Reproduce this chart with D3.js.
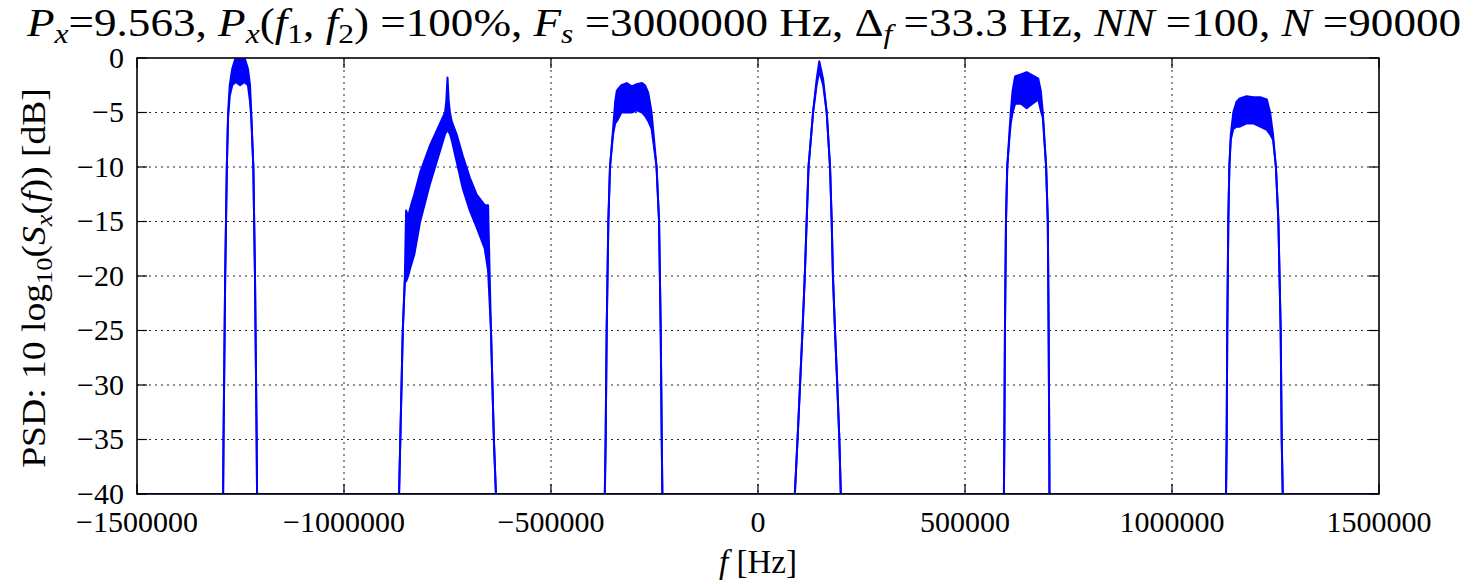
<!DOCTYPE html>
<html>
<head>
<meta charset="utf-8">
<script src="https://cdn.jsdelivr.net/npm/d3@7"></script>
<style>
body { margin: 0; background: #fff; }
text { font-family: "Liberation Serif", "DejaVu Serif", serif; fill: #000; }
</style>
</head>
<body>
<svg id="chart"></svg>
<script>
const width = 1483;
const height = 584;

// PSD envelope of each band: [frequency Hz, upper dB, lower dB]
const band1 = [
    [-1292000, -40, -40], [-1291000, -35, -35], [-1287000, -20, -20], [-1283000, -10, -10],
    [-1280000, -5, -5.5], [-1276000, -2.5, -3.5], [-1270000, -1, -2.5], [-1262000, 0, -2.2],
    [-1251000, 0, -2.5], [-1240000, 0, -2.2], [-1232000, -1, -2.5], [-1227000, -2.5, -4],
    [-1224000, -5, -5.5], [-1219000, -10, -10], [-1215000, -20, -20], [-1211000, -35, -35],
    [-1210000, -40, -40]
];
const band2 = [
    [-867000, -40, -40], [-858000, -25, -25], [-853000, -20, -20.5], [-850000, -14, -20.5],
    [-845000, -14.5, -20], [-838000, -13.5, -19], [-830000, -12.5, -18], [-816000, -10.5, -15],
    [-792000, -8, -11.5], [-768000, -6, -8.5], [-756000, -5, -7], [-753000, -4, -6.8],
    [-750000, -1.8, -6.5], [-747000, -4, -6.8], [-744000, -5, -7], [-740000, -5.8, -7.5],
    [-728000, -7, -9.5], [-713000, -9, -12], [-696000, -11, -14], [-680000, -12.5, -15.5],
    [-660000, -13.5, -17.5], [-652000, -13.5, -19.5], [-645000, -25, -25], [-638000, -35, -35],
    [-633000, -40, -40]
];
const band3 = [
    [-370000, -40, -40], [-368000, -35, -35], [-365500, -25, -25], [-361500, -15, -15],
    [-357500, -10, -10], [-350000, -6.5, -7], [-345000, -4, -6], [-341000, -3, -5.8],
    [-330000, -2.5, -5], [-317000, -2.3, -5], [-305000, -2.6, -5], [-293000, -2.4, -4.8],
    [-280000, -2.3, -5], [-273000, -2.5, -5.3], [-265000, -3.2, -5.8], [-257000, -5, -6.5],
    [-245000, -10, -10], [-239000, -15, -15], [-235000, -25, -25], [-232500, -35, -35],
    [-231000, -40, -40]
];
const band4 = [
    [89000, -40, -40], [95500, -35, -35], [101500, -30, -30], [107500, -25, -25],
    [113000, -20, -20], [117500, -15, -15], [122000, -10, -10], [133000, -5, -5],
    [141500, -2, -2.5], [148000, -0.3, -1.2], [157500, -2, -2.5], [166000, -5, -5],
    [174000, -10, -10], [178000, -15, -15], [181000, -20, -20], [186000, -25, -25],
    [191500, -30, -30], [196500, -35, -35], [200000, -40, -40]
];
const band5 = [
    [594000, -40, -40], [595000, -35, -35], [596500, -25, -25], [599000, -15, -15],
    [602000, -10, -10], [607000, -7, -7.5], [610500, -5, -6], [615000, -3, -5],
    [621000, -1.7, -4.2], [635000, -1.5, -4.2], [649000, -1.3, -4.6], [663000, -1.6, -4.2],
    [677000, -1.9, -3.8], [683000, -3, -4.8], [688000, -5, -5.5], [696000, -10, -10],
    [700000, -15, -15], [702000, -25, -25], [703500, -35, -35], [704000, -40, -40]
];
const band6 = [
    [1130500, -40, -40], [1132000, -35, -35], [1133500, -25, -25], [1136000, -15, -15],
    [1138500, -10, -10], [1142000, -7, -7.5], [1148000, -5, -6.5], [1156000, -4, -6.3],
    [1164000, -3.7, -6.3], [1180000, -3.5, -6], [1196500, -3.6, -6], [1213000, -3.6, -6.3],
    [1229000, -3.8, -6.6], [1237000, -5, -7], [1244000, -7, -7.5], [1251000, -10, -10],
    [1257000, -15, -15], [1262500, -25, -25], [1265000, -35, -35], [1267500, -40, -40]
];
const bands = [band1, band2, band3, band4, band5, band6];

const freqDomain = [-1500000, 1500000];
const dbDomain = [-40, 0];
const xTicks = [-1500000, -1000000, -500000, 0, 500000, 1000000, 1500000];
const yTicks = [0, -5, -10, -15, -20, -25, -30, -35, -40];

const svg = d3.select('#chart')
    .attr('width', width)
    .attr('height', height);

const plot = {left: 137, right: 1379, top: 58, bottom: 494};

const x = d3.scaleLinear().domain(freqDomain).range([plot.left, plot.right]);
const y = d3.scaleLinear().domain(dbDomain).range([plot.bottom, plot.top]);

svg.append('clipPath').attr('id', 'clip')
    .append('rect')
    .attr('x', plot.left).attr('y', plot.top)
    .attr('width', plot.right - plot.left).attr('height', plot.bottom - plot.top);

// grid
const grid = svg.append('g').attr('id', 'grid')
    .attr('stroke', '#000').attr('stroke-width', 1)
    .attr('stroke-dasharray', '2,4').attr('opacity', 0.85);
grid.selectAll('line.h')
    .data(yTicks.slice(1, -1))
    .enter().append('line')
    .attr('x1', plot.left).attr('x2', plot.right)
    .attr('y1', d => y(d)).attr('y2', d => y(d));
grid.selectAll('line.v')
    .data(xTicks.slice(1, -1))
    .enter().append('line')
    .attr('y1', plot.top).attr('y2', plot.bottom)
    .attr('x1', d => x(d)).attr('x2', d => x(d));

// data
const data_g = svg.append('g').attr('clip-path', 'url(#clip)');

data_g.append('line')
    .attr('x1', x(freqDomain[0])).attr('x2', x(freqDomain[1]))
    .attr('y1', y(-40)).attr('y2', y(-40))
    .attr('stroke', '#0000ff').attr('stroke-width', 2);

const area = d3.area()
    .x(d => x(d[0]))
    .y0(d => y(d[2]))
    .y1(d => y(d[1]));
const upper = d3.line().x(d => x(d[0])).y(d => y(d[1]));
const lower = d3.line().x(d => x(d[0])).y(d => y(d[2]));

for (const band of bands) {
    data_g.append('path').datum(band)
        .attr('d', area)
        .attr('fill', '#0000ff');
    data_g.append('path').datum(band)
        .attr('d', upper)
        .attr('fill', 'none').attr('stroke', '#0000ff').attr('stroke-width', 2)
        .attr('stroke-linejoin', 'round');
    data_g.append('path').datum(band)
        .attr('d', lower)
        .attr('fill', 'none').attr('stroke', '#0000ff').attr('stroke-width', 2)
        .attr('stroke-linejoin', 'round');
}

// frame and inward ticks
svg.append('rect')
    .attr('x', plot.left).attr('y', plot.top)
    .attr('width', plot.right - plot.left).attr('height', plot.bottom - plot.top)
    .attr('fill', 'none').attr('stroke', '#000').attr('stroke-width', 1.6);

const tickLen = 10;
const ticks_g = svg.append('g').attr('stroke', '#000').attr('stroke-width', 1.2);
for (const t of xTicks) {
    ticks_g.append('line').attr('x1', x(t)).attr('x2', x(t))
        .attr('y1', plot.bottom).attr('y2', plot.bottom - tickLen);
    ticks_g.append('line').attr('x1', x(t)).attr('x2', x(t))
        .attr('y1', plot.top).attr('y2', plot.top + tickLen);
}
for (const t of yTicks) {
    ticks_g.append('line').attr('y1', y(t)).attr('y2', y(t))
        .attr('x1', plot.left).attr('x2', plot.left + tickLen);
    ticks_g.append('line').attr('y1', y(t)).attr('y2', y(t))
        .attr('x1', plot.right).attr('x2', plot.right - tickLen);
}

// tick labels
const fmt = d3.format('d');
svg.append('g').selectAll('text')
    .data(xTicks)
    .enter().append('text')
    .attr('x', d => x(d))
    .attr('y', plot.bottom + 38)
    .attr('text-anchor', 'middle')
    .style('font-size', '30px')
    .text(d => fmt(d));
svg.append('g').selectAll('text')
    .data(yTicks)
    .enter().append('text')
    .attr('x', plot.left - 13)
    .attr('y', d => y(d))
    .attr('dy', '0.32em')
    .attr('text-anchor', 'end')
    .style('font-size', '30px')
    .text(d => fmt(d));

// rich text helper: [string, 'r' | 'i' | 's' | 'si']
function richText(sel, parts, sub) {
    let shifted = false;
    for (const [str, kind] of parts) {
        const isSub = kind === 's' || kind === 'si';
        const t = sel.append('tspan').text(str);
        if (kind === 'i' || kind === 'si') t.style('font-style', 'italic');
        if (isSub) t.style('font-size', '70%');
        if (isSub && !shifted) { t.attr('dy', sub); shifted = true; }
        else if (!isSub && shifted) { t.attr('dy', -sub); shifted = false; }
    }
}

// title
const title = svg.append('text').style('font-size', '39px');
richText(title, [
    ['P', 'i'], ['x', 'si'], ['=9.563, ', 'r'], ['P', 'i'], ['x', 'si'], ['(', 'r'],
    ['f', 'i'], ['1', 's'], [', ', 'r'], ['f', 'i'], ['2', 's'], [') =100%, ', 'r'],
    ['F', 'i'], ['s', 'si'], [' =3000000 Hz, ', 'r'], ['Δ', 'r'], ['f', 'si'],
    [' =33.3 Hz, ', 'r'], ['NN', 'i'], [' =100, ', 'r'], ['N', 'i'], [' =90000', 'r']
], 7);
const tw = title.node().getBBox().width;
title.attr('transform', `translate(27, 36) scale(${1436 / tw}, 1)`);

// y label
const ylab = svg.append('text')
    .attr('text-anchor', 'middle')
    .style('font-size', '33px');
richText(ylab, [
    ['PSD: 10 log', 'r'], ['10', 's'], ['(', 'r'], ['S', 'i'], ['x', 'si'],
    ['(', 'r'], ['f', 'i'], [')) [dB]', 'r']
], 7);
const yw = ylab.node().getBBox().width;
ylab.attr('transform', `translate(45, 278) rotate(-90) scale(${380 / yw}, 1)`);

// x label
const xlab = svg.append('text')
    .attr('x', x(0)).attr('y', 573)
    .attr('text-anchor', 'middle')
    .style('font-size', '33px');
richText(xlab, [['f', 'i'], [' [Hz]', 'r']], 0);
</script>
</body>
</html>
